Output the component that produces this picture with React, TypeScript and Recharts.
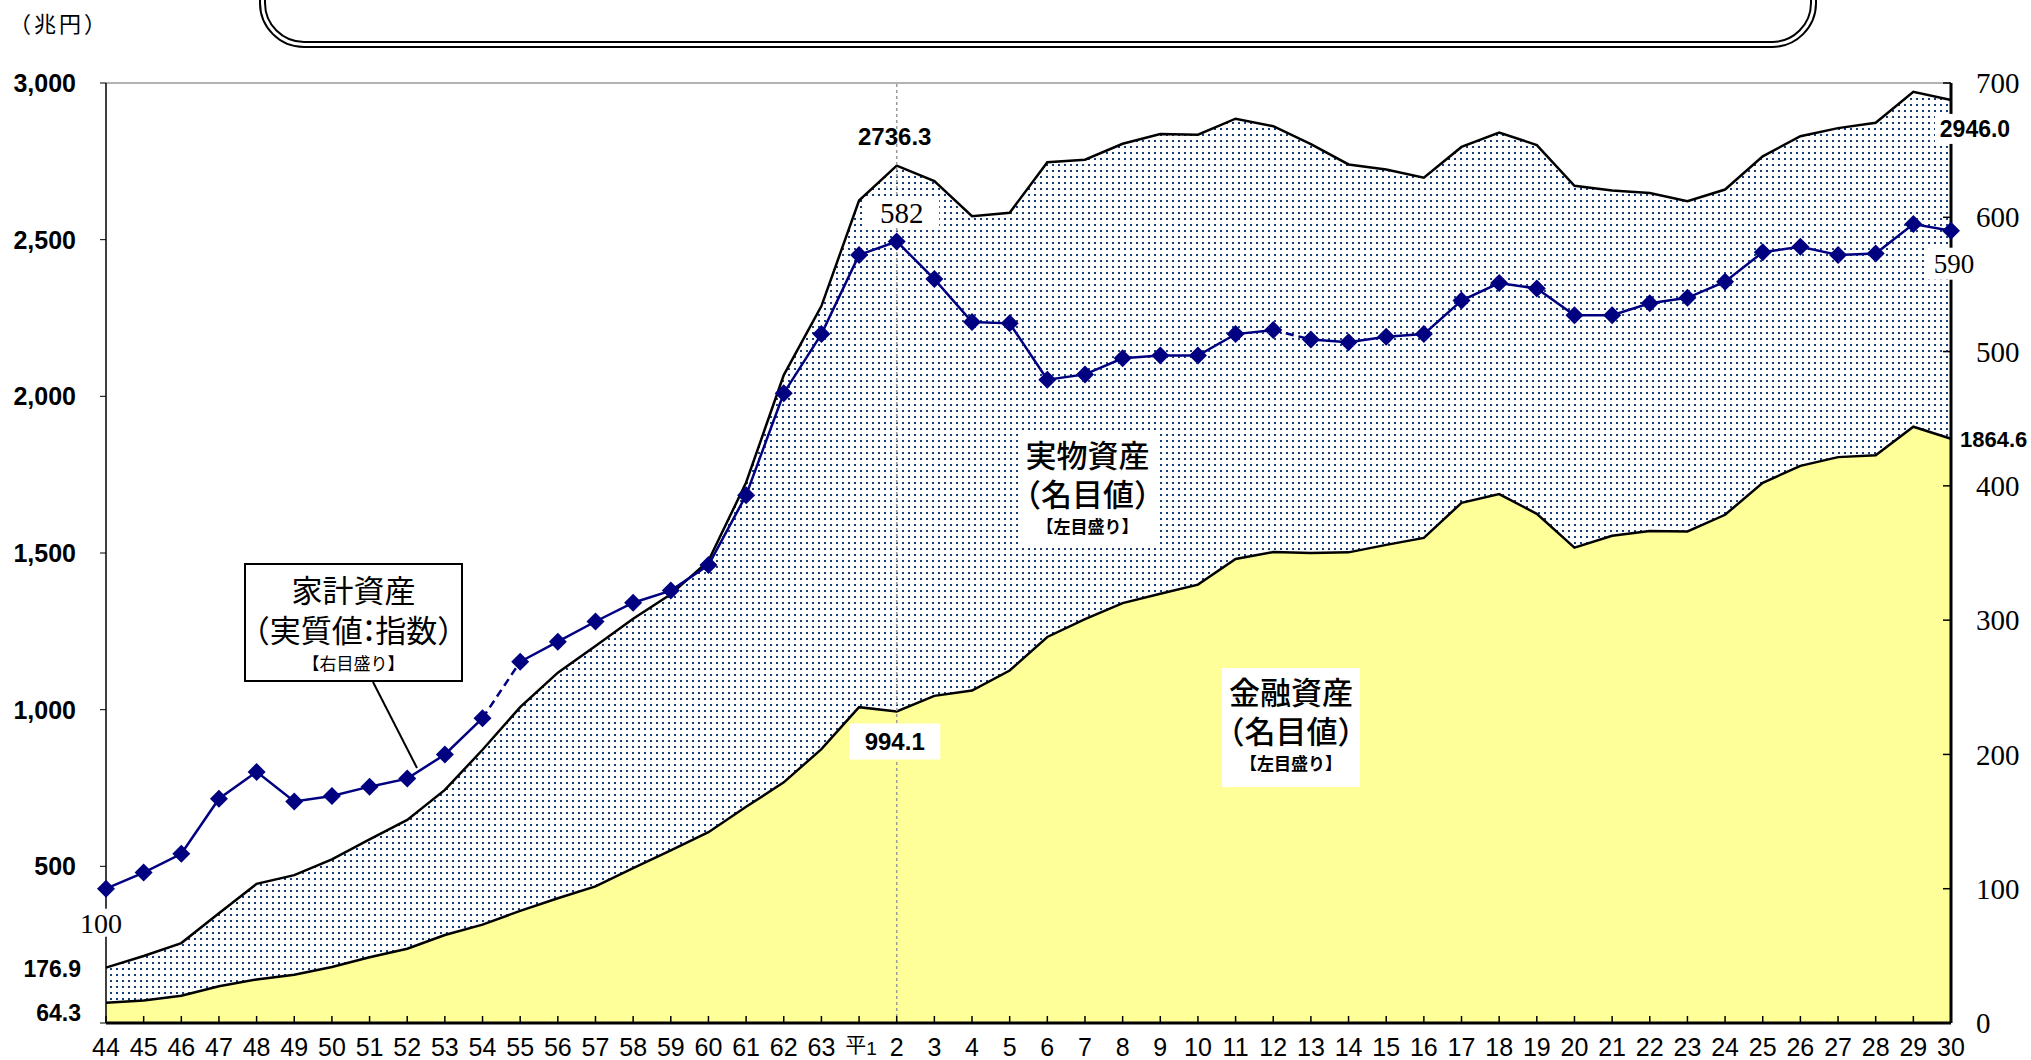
import React from "react";
import {
  ComposedChart,
  Area,
  Line,
  XAxis,
  YAxis,
  ReferenceLine,
  ReferenceDot,
} from "recharts";

// 年度（昭和44〜63、平成元〜30）
const years = [
  "44", "45", "46", "47", "48", "49", "50", "51", "52", "53",
  "54", "55", "56", "57", "58", "59", "60", "61", "62", "63",
  "平1", "2", "3", "4", "5", "6", "7", "8", "9", "10",
  "11", "12", "13", "14", "15", "16", "17", "18", "19", "20",
  "21", "22", "23", "24", "25", "26", "27", "28", "29", "30",
];

// 金融資産（名目値、兆円）
const financialAssets = [
  64.3, 72, 87, 117, 139, 154, 179, 210, 237, 281,
  314, 358, 398, 436, 494, 551, 609, 690, 768, 874,
  1008, 994.1, 1044, 1061, 1125, 1232, 1289, 1340, 1370, 1399,
  1481, 1503, 1500, 1502, 1526, 1548, 1660, 1688, 1625, 1517,
  1555, 1570, 1569, 1622, 1724, 1778, 1806, 1812, 1903, 1864.6,
];

// 家計資産合計（金融＋実物、兆円）
const totalAssets = [
  176.9, 214, 255, 350, 444, 472, 522, 586, 648, 744,
  872, 1008, 1118, 1203, 1290, 1368, 1475, 1725, 2068, 2288,
  2625, 2736.3, 2687, 2575, 2586, 2747, 2755, 2806, 2837, 2835,
  2886, 2862, 2805, 2740, 2724, 2698, 2796, 2842, 2802, 2672,
  2657, 2649, 2623, 2660, 2766, 2830, 2856, 2873, 2972, 2946.0,
];

// 家計資産（実質値：指数、昭和44=100）
const householdIndex = [
  100, 112, 126, 167, 187, 165, 169, 176, 182, 200,
  227, 269, 284, 299, 313, 322, 341, 393, 469, 513,
  572, 582, 554, 522, 521, 479, 483, 495, 497, 497,
  513, 516, 509, 507, 511, 513, 538, 551, 547, 527,
  527, 536, 540, 552, 574, 578, 572, 573, 595, 590,
];

// 破線でつなぐ区間（i → i+1）
const dashedFrom = [10, 31];

const leftTicks = [0, 500, 1000, 1500, 2000, 2500, 3000];
const rightTicks = [0, 100, 200, 300, 400, 500, 600, 700];

const data = years.map((year, i) => {
  const dashed = dashedFrom.some((s) => i === s || i === s + 1);
  const inMiddle = i > dashedFrom[0] && i <= dashedFrom[1];
  return {
    year,
    financial: financialAssets[i],
    total: totalAssets[i],
    index: householdIndex[i],
    solidA: inMiddle ? null : householdIndex[i],
    solidB: inMiddle ? householdIndex[i] : null,
    dashed: dashed ? householdIndex[i] : null,
  };
});

const SANS = '"Liberation Sans", Arial, sans-serif';
const SERIF = '"Liberation Serif", "DejaVu Serif", serif';
const NARROW = '"Liberation Sans Narrow", "Liberation Sans", sans-serif';
const JP = '"Noto Sans CJK JP", sans-serif';
const NAVY = "#000080";

const Diamond = (p: any) => {
  const { cx, cy, index } = p;
  if (cx == null || cy == null) return <g key={index} />;
  const s = 9;
  return (
    <path
      key={index}
      d={`M${cx},${cy - s} L${cx + s},${cy} L${cx},${cy + s} L${cx - s},${cy} Z`}
      fill={NAVY}
    />
  );
};

const XTick = (p: any) => {
  const { x, y, payload } = p;
  const v = payload.value;
  return (
    <g>
      <line x1={x} x2={x} y1={y - 7} y2={y} stroke="#000" strokeWidth={1.5} />
      {v === "平1" ? (
        <text x={x + 2} y={y + 29} textAnchor="middle" fontFamily={JP} fontSize={21} fill="#000">
          <tspan>平</tspan>
          <tspan fontFamily={NARROW} fontSize={19} dy={3}>1</tspan>
        </text>
      ) : (
        <text x={x} y={y + 33} textAnchor="middle" fontFamily={NARROW} fontSize={25} fill="#000">
          {v}
        </text>
      )}
    </g>
  );
};

const RightTick = (p: any) => {
  const { x, y, payload } = p;
  return (
    <g>
      <line x1={x - 8} x2={x} y1={y} y2={y} stroke="#000" strokeWidth={1.5} />
      <text x={x + 25} y={y} dy="0.35em" textAnchor="start" fontFamily={SERIF} fontSize={29} fill="#000">
        {payload.value}
      </text>
    </g>
  );
};

type TagOpts = {
  dx: number;
  dy: number;
  font: string;
  size: number;
  weight?: number;
  anchor?: "start" | "middle" | "end";
  bg?: [number, number];
};

const tag = (text: string, o: TagOpts) => (p: any) => {
  const vb = p.viewBox || {};
  const cx = (vb.x ?? 0) + (vb.width ?? 0) / 2 + o.dx;
  const cy = (vb.y ?? 0) + (vb.height ?? 0) / 2 + o.dy;
  return (
    <g>
      {o.bg && (
        <rect x={cx - o.bg[0] / 2} y={cy - o.bg[1] / 2} width={o.bg[0]} height={o.bg[1]} fill="#fff" />
      )}
      <text
        x={cx}
        y={cy}
        dy="0.36em"
        textAnchor={o.anchor || "middle"}
        fontFamily={o.font}
        fontSize={o.size}
        fontWeight={o.weight || 400}
        fill="#000"
      >
        {text}
      </text>
    </g>
  );
};

// 全角括弧の余白を詰める
const openP = { marginLeft: "-0.5em" };
const closeP = { marginRight: "-0.5em" };
const line = (top: number, fontSize: number, lh: number): React.CSSProperties => ({
  position: "absolute",
  left: 0,
  right: 0,
  top,
  fontSize,
  lineHeight: `${lh}px`,
  whiteSpace: "nowrap",
});

const NoteBlock = ({ left, top, width, height, title }: any) => (
  <div
    style={{
      position: "absolute",
      left,
      top,
      width,
      height,
      background: "#fff",
      fontFamily: JP,
      color: "#000",
      textAlign: "center",
      fontWeight: 500,
    }}
  >
    <div style={line(3, 31, 40)}>{title}</div>
    <div style={line(42, 31, 40)}>
      <span style={openP}>（</span>名目値<span style={closeP}>）</span>
    </div>
    <div style={{ ...line(82, 17, 26), fontWeight: 700 }}>【左目盛り】</div>
  </div>
);

export default function App() {
  const last = years.length - 1;
  const peak = 21;
  return (
    <div style={{ position: "absolute", left: 0, top: 0, width: 2031, height: 1060, background: "#fff", overflow: "hidden" }}>
      <ComposedChart width={2031} height={1060} data={data} margin={{ top: 83, right: 0, bottom: 0, left: 0 }}>
        <defs>
          <pattern id="dots" width={6} height={6} patternUnits="userSpaceOnUse">
            <rect width={6} height={6} fill="#fff" />
            <rect x={2} y={2} width={2} height={2} fill="#143c78" />
          </pattern>
        </defs>
        <XAxis
          dataKey="year"
          scale="point"
          padding={{ left: 0, right: 0 }}
          interval={0}
          height={37}
          tickSize={0}
          tickMargin={0}
          tickLine={false}
          tick={<XTick />}
          axisLine={{ stroke: "#000", strokeWidth: 3 }}
        />
        <YAxis
          yAxisId="left"
          width={106}
          domain={[0, 3000]}
          ticks={leftTicks}
          tickSize={6}
          tickMargin={24}
          tickFormatter={(v: number) => (v === 0 ? "" : v.toLocaleString("en-US"))}
          tick={{ fontSize: 25, fontWeight: 700, fill: "#000", fontFamily: SANS }}
          tickLine={{ stroke: "#000" }}
          axisLine={{ stroke: "#000", strokeWidth: 1.5 }}
          allowDataOverflow
        />
        <YAxis
          yAxisId="right"
          orientation="right"
          width={80}
          domain={[0, 700]}
          ticks={rightTicks}
          tickSize={0}
          tickMargin={0}
          tickLine={false}
          tick={<RightTick />}
          axisLine={{ stroke: "#000", strokeWidth: 3 }}
        />
        <ReferenceLine y={3000} yAxisId="left" stroke="#999" strokeWidth={1.5} />
        <Area
          yAxisId="left"
          type="linear"
          dataKey="total"
          fill="url(#dots)"
          fillOpacity={1}
          stroke="#000"
          strokeWidth={2.5}
          isAnimationActive={false}
        />
        <Area
          yAxisId="left"
          type="linear"
          dataKey="financial"
          fill="#ffff99"
          fillOpacity={1}
          stroke="#000"
          strokeWidth={2.5}
          isAnimationActive={false}
        />
        <ReferenceLine x="2" yAxisId="left" stroke="#999" strokeDasharray="3 3" strokeWidth={1.5} />
        <Line yAxisId="right" type="linear" dataKey="solidA" stroke={NAVY} strokeWidth={2.5} dot={false} isAnimationActive={false} />
        <Line yAxisId="right" type="linear" dataKey="solidB" stroke={NAVY} strokeWidth={2.5} dot={false} isAnimationActive={false} />
        <Line
          yAxisId="right"
          type="linear"
          dataKey="dashed"
          stroke={NAVY}
          strokeWidth={2.5}
          strokeDasharray="8 5"
          dot={false}
          isAnimationActive={false}
        />
        <Line yAxisId="right" type="linear" dataKey="index" stroke="none" dot={Diamond} activeDot={false} isAnimationActive={false} />

        <ReferenceDot x={years[peak]} y={totalAssets[peak]} yAxisId="left" r={0} fill="none" stroke="none"
          label={tag(totalAssets[peak].toFixed(1), { dx: -2, dy: -29, font: SANS, size: 24, weight: 700 })} />
        <ReferenceDot x={years[peak]} y={householdIndex[peak]} yAxisId="right" r={0} fill="none" stroke="none"
          label={tag(String(householdIndex[peak]), { dx: 5, dy: -29, font: SERIF, size: 29, bg: [75, 31] })} />
        <ReferenceDot x={years[peak]} y={financialAssets[peak]} yAxisId="left" r={0} fill="none" stroke="none"
          label={tag(financialAssets[peak].toFixed(1), { dx: -2, dy: 30, font: SANS, size: 24, weight: 700, bg: [91, 36] })} />
        <ReferenceDot x={years[last]} y={totalAssets[last]} yAxisId="left" r={0} fill="none" stroke="none" ifOverflow="visible"
          label={tag(totalAssets[last].toFixed(1), { dx: 24, dy: 29, font: SANS, size: 23, weight: 700, bg: [80, 30] })} />
        <ReferenceDot x={years[last]} y={householdIndex[last]} yAxisId="right" r={0} fill="none" stroke="none" ifOverflow="visible"
          label={tag(String(householdIndex[last]), { dx: 3, dy: 33, font: SERIF, size: 27, bg: [56, 32] })} />
        <ReferenceDot x={years[last]} y={financialAssets[last]} yAxisId="left" r={0} fill="none" stroke="none" ifOverflow="visible"
          label={tag(financialAssets[last].toFixed(1), { dx: 9, dy: 0, font: SANS, size: 22, weight: 700, anchor: "start" })} />
        <ReferenceDot x={years[0]} y={totalAssets[0]} yAxisId="left" r={0} fill="none" stroke="none" ifOverflow="visible"
          label={tag(totalAssets[0].toFixed(1), { dx: -25, dy: 1, font: SANS, size: 23, weight: 700, anchor: "end" })} />
        <ReferenceDot x={years[0]} y={financialAssets[0]} yAxisId="left" r={0} fill="none" stroke="none" ifOverflow="visible"
          label={tag(financialAssets[0].toFixed(1), { dx: -25, dy: 10, font: SANS, size: 23, weight: 700, anchor: "end" })} />
        <ReferenceDot x={years[0]} y={householdIndex[0]} yAxisId="right" r={0} fill="none" stroke="none" ifOverflow="visible"
          label={tag(String(householdIndex[0]), { dx: -5, dy: 34, font: SERIF, size: 28, bg: [46, 28] })} />
      </ComposedChart>

      {/* 単位 */}
      <div style={{ position: "absolute", left: 9, top: 8, fontFamily: JP, fontSize: 22, lineHeight: "28px", letterSpacing: 3, color: "#000", whiteSpace: "nowrap" }}>
        （兆円）
      </div>

      {/* タイトル枠（上部が切れている） */}
      <div
        style={{
          position: "absolute",
          left: 259,
          top: -60,
          width: 1558,
          height: 108,
          border: "7px double #000",
          borderRadius: 45,
          boxSizing: "border-box",
          background: "#fff",
        }}
      />

      {/* 家計資産の凡例ボックス */}
      <svg width={2031} height={1060} style={{ position: "absolute", left: 0, top: 0, pointerEvents: "none" }}>
        <line x1={373} y1={682} x2={417} y2={768} stroke="#000" strokeWidth={2} />
      </svg>
      <div
        style={{
          position: "absolute",
          left: 244,
          top: 563,
          width: 219,
          height: 119,
          border: "2px solid #000",
          boxSizing: "border-box",
          background: "#fff",
          fontFamily: JP,
          color: "#000",
          textAlign: "center",
        }}
      >
        <div style={line(4, 31, 40)}>家計資産</div>
        <div style={line(44, 31, 40)}>
          <span style={openP}>（</span>実質値<span style={{ margin: "0 -0.3em" }}>：</span>指数<span style={closeP}>）</span>
        </div>
        <div style={line(86, 17, 24)}>【右目盛り】</div>
      </div>

      <NoteBlock left={1018} top={431} width={139} height={114} title="実物資産" />
      <NoteBlock left={1222} top={668} width={138} height={119} title="金融資産" />
    </div>
  );
}
